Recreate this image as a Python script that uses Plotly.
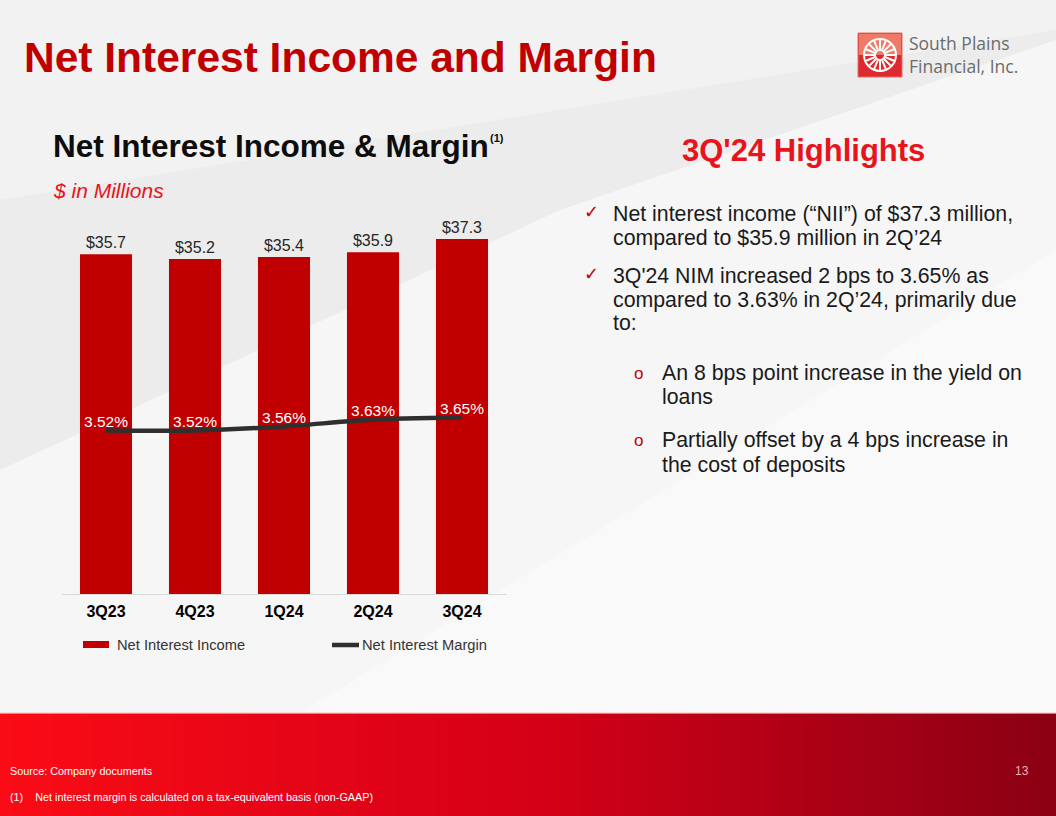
import numpy as np
import plotly.graph_objects as go

# ---- data ----
quarters = ["3Q23", "4Q23", "1Q24", "2Q24", "3Q24"]
nii = [35.7, 35.2, 35.4, 35.9, 37.3]          # $ in millions
nim = [3.52, 3.52, 3.56, 3.63, 3.65]          # %
nii_labels = ["$35.7", "$35.2", "$35.4", "$35.9", "$37.3"]
nim_labels = ["3.52%", "3.52%", "3.56%", "3.63%", "3.65%"]

W, H = 1056, 816
FONT = "Liberation Sans, Arial, DejaVu Sans"
DARK_RED = "#c00000"
BRIGHT_RED = "#e8141c"


def px(x):
    return x / W


def py(y):
    return 1 - y / H


fig = go.Figure()

# bars: net interest income
fig.add_trace(go.Bar(
    x=quarters, y=nii,
    marker=dict(color=DARK_RED, line=dict(width=0)),
    width=0.585,
    text=nii_labels, textposition="outside",
    textfont=dict(size=16, color="#262626", family=FONT),
    cliponaxis=False,
    showlegend=False,
    hoverinfo="skip",
))

# line: net interest margin
fig.add_trace(go.Scatter(
    x=quarters, y=nim, yaxis="y2",
    mode="lines+text",
    line=dict(color="#2f2f2f", width=4.5, shape="spline", smoothing=0.6),
    text=nim_labels, textposition="top center",
    textfont=dict(size=15.5, color="white", family=FONT),
    cliponaxis=False,
    showlegend=False,
    hoverinfo="skip",
))

shapes = []
annotations = []

# background: soft diagonal light bands
bg_polys = [
    ([(0, 0), (1056, 0), (1056, 30), (0, 200)], "rgba(255,255,255,0.35)"),
    ([(0, 470), (560, 210), (1056, 40), (1056, 713), (0, 713)], "rgba(255,255,255,0.55)"),
    ([(300, 713), (1056, 250), (1056, 713)], "rgba(255,255,255,0.35)"),
]
for pts, col in bg_polys:
    path = "M " + " L ".join(f"{px(x)},{py(y)}" for x, y in pts) + " Z"
    shapes.append(dict(type="path", xref="paper", yref="paper", layer="below",
                       path=path, fillcolor=col, line=dict(width=0)))

# footer red gradient band
n_strips = 80
left_rgb = np.array([250, 12, 22])
mid_rgb = np.array([214, 0, 24])
right_rgb = np.array([140, 0, 20])
for i in range(n_strips):
    t = i / (n_strips - 1)
    if t < 0.5:
        c = left_rgb + (mid_rgb - left_rgb) * (t / 0.5)
    else:
        c = mid_rgb + (right_rgb - mid_rgb) * ((t - 0.5) / 0.5)
    x0 = W * i / n_strips
    x1 = W * (i + 1) / n_strips + 0.8
    shapes.append(dict(type="rect", xref="paper", yref="paper", layer="below",
                       x0=px(x0), x1=px(x1), y0=0, y1=py(713),
                       fillcolor="rgb(%d,%d,%d)" % tuple(c.astype(int)),
                       line=dict(width=0)))
shapes.append(dict(type="line", xref="paper", yref="paper", layer="below",
                   x0=0, x1=1, y0=py(713), y1=py(713),
                   line=dict(color="rgba(255,200,200,0.8)", width=1.5)))

# logo
shapes.append(dict(type="rect", xref="paper", yref="paper",
                   x0=px(858), x1=px(902), y0=py(77), y1=py(33),
                   fillcolor="#dc2a2e", line=dict(color="#e87060", width=1)))
shapes.append(dict(type="rect", xref="paper", yref="paper",
                   x0=px(859), x1=px(901), y0=py(55), y1=py(34),
                   fillcolor="#f07a68", line=dict(width=0)))
cx, cy, r = 880, 55, 16
shapes.append(dict(type="circle", xref="paper", yref="paper",
                   x0=px(cx - r), x1=px(cx + r), y0=py(cy + r), y1=py(cy - r),
                   fillcolor="rgba(0,0,0,0)", line=dict(color="white", width=2)))
for k in range(16):
    a = 2 * np.pi * k / 16
    shapes.append(dict(type="line", xref="paper", yref="paper",
                       x0=px(cx + 4 * np.cos(a)), y0=py(cy + 4 * np.sin(a)),
                       x1=px(cx + (r - 1) * np.cos(a)), y1=py(cy + (r - 1) * np.sin(a)),
                       line=dict(color="white", width=2)))
annotations.append(dict(text="South Plains<br>Financial, Inc.", x=px(907), y=py(55),
                        xref="paper", yref="paper", xanchor="left", yanchor="middle",
                        align="left", showarrow=False,
                        font=dict(size=17.5, color="#6b6b6b", family="Open Sans, " + FONT)))

# custom legend
shapes.append(dict(type="rect", xref="paper", yref="paper",
                   x0=px(83), x1=px(109), y0=py(648), y1=py(641),
                   fillcolor=DARK_RED, line=dict(width=0)))
shapes.append(dict(type="line", xref="paper", yref="paper",
                   x0=px(332), x1=px(359), y0=py(645), y1=py(645),
                   line=dict(color="#2f2f2f", width=4.5)))
annotations.append(dict(text="Net Interest Income", x=px(115), y=py(645),
                        xref="paper", yref="paper", xanchor="left", yanchor="middle",
                        showarrow=False, font=dict(size=14.7, color="#333333", family=FONT)))
annotations.append(dict(text="Net Interest Margin", x=px(360), y=py(645),
                        xref="paper", yref="paper", xanchor="left", yanchor="middle",
                        showarrow=False, font=dict(size=14.7, color="#333333", family=FONT)))

# titles
annotations.append(dict(text="<b>Net Interest Income and Margin</b>", x=px(22), y=py(58),
                        xref="paper", yref="paper", xanchor="left", yanchor="middle",
                        showarrow=False, font=dict(size=42.5, color=DARK_RED, family=FONT)))
annotations.append(dict(text="<b>Net Interest Income & Margin</b>",
                        x=px(51), y=py(146),
                        xref="paper", yref="paper", xanchor="left", yanchor="middle",
                        showarrow=False, font=dict(size=31.5, color="#0d0d0d", family=FONT)))
annotations.append(dict(text="<b>(1)</b>", x=px(488), y=py(138),
                        xref="paper", yref="paper", xanchor="left", yanchor="middle",
                        showarrow=False, font=dict(size=11, color="#0d0d0d", family=FONT)))
annotations.append(dict(text="<i>$ in Millions</i>", x=px(51), y=py(190),
                        xref="paper", yref="paper", xanchor="left", yanchor="middle",
                        showarrow=False, font=dict(size=21, color=BRIGHT_RED, family=FONT)))
annotations.append(dict(text="<b>3Q'24 Highlights</b>", x=px(803), y=py(150),
                        xref="paper", yref="paper", xanchor="center", yanchor="middle",
                        showarrow=False, font=dict(size=31, color=BRIGHT_RED, family=FONT)))

# highlight bullets
body = dict(size=21.3, color="#1a1a1a", family=FONT)
lines = [
    (611, 214, "Net interest income (“NII”) of $37.3 million,"),
    (611, 238, "compared to $35.9 million in 2Q’24"),
    (611, 276, "3Q'24 NIM increased 2 bps to 3.65% as"),
    (611, 300, "compared to 3.63% in 2Q’24, primarily due"),
    (611, 323, "to:"),
    (660, 373, "An 8 bps point increase in the yield on"),
    (660, 397, "loans"),
    (660, 440, "Partially offset by a 4 bps increase in"),
    (660, 465, "the cost of deposits"),
]
for x, y, t in lines:
    annotations.append(dict(text=t, x=px(x), y=py(y), xref="paper", yref="paper",
                            xanchor="left", yanchor="middle", showarrow=False, font=body))
for y in (212, 274):
    annotations.append(dict(text="✓", x=px(591), y=py(y), xref="paper", yref="paper",
                            xanchor="center", yanchor="middle", showarrow=False,
                            font=dict(size=18, color=DARK_RED, family="DejaVu Sans")))
for y in (374, 440):
    annotations.append(dict(text="o", x=px(638), y=py(y), xref="paper", yref="paper",
                            xanchor="center", yanchor="middle", showarrow=False,
                            font=dict(size=17, color=DARK_RED, family=FONT)))

# footer text
annotations.append(dict(text="Source: Company documents", x=px(8), y=py(771),
                        xref="paper", yref="paper", xanchor="left", yanchor="middle",
                        showarrow=False, font=dict(size=10.8, color="white", family=FONT)))
annotations.append(dict(text="(1)    Net interest margin is calculated on a tax-equivalent basis (non-GAAP)",
                        x=px(8), y=py(797), xref="paper", yref="paper",
                        xanchor="left", yanchor="middle",
                        showarrow=False, font=dict(size=10.8, color="white", family=FONT)))
annotations.append(dict(text="13", x=px(1031), y=py(771), xref="paper", yref="paper",
                        xanchor="right", yanchor="middle",
                        showarrow=False, font=dict(size=12, color="#f0b0b0", family=FONT)))

fig.update_layout(
    width=W, height=H,
    margin=dict(l=0, r=0, t=0, b=0),
    paper_bgcolor="#ececec",
    plot_bgcolor="rgba(0,0,0,0)",
    font=dict(family=FONT),
    xaxis=dict(
        domain=[px(61.5), px(506.5)],
        showgrid=False, zeroline=False,
        showline=True, linecolor="#d9d9d9", linewidth=1,
        ticks="", tickfont=dict(size=16, color="#000000", family=FONT),
        tickprefix="<b>", ticksuffix="</b>",
        ticklabelstandoff=3,
        fixedrange=True,
    ),
    yaxis=dict(
        domain=[py(594), py(220)],
        range=[0, 39.3],
        visible=False, showgrid=False, zeroline=False,
        fixedrange=True,
    ),
    yaxis2=dict(
        overlaying="y", side="right",
        range=[1.885, 5.625],
        visible=False, showgrid=False, zeroline=False,
        fixedrange=True,
    ),
    shapes=shapes,
    annotations=annotations,
    showlegend=False,
)

fig.write_html("out.html",
               config={"displayModeBar": False},
               post_script="document.body.style.margin='0';document.body.style.overflow='hidden';")
